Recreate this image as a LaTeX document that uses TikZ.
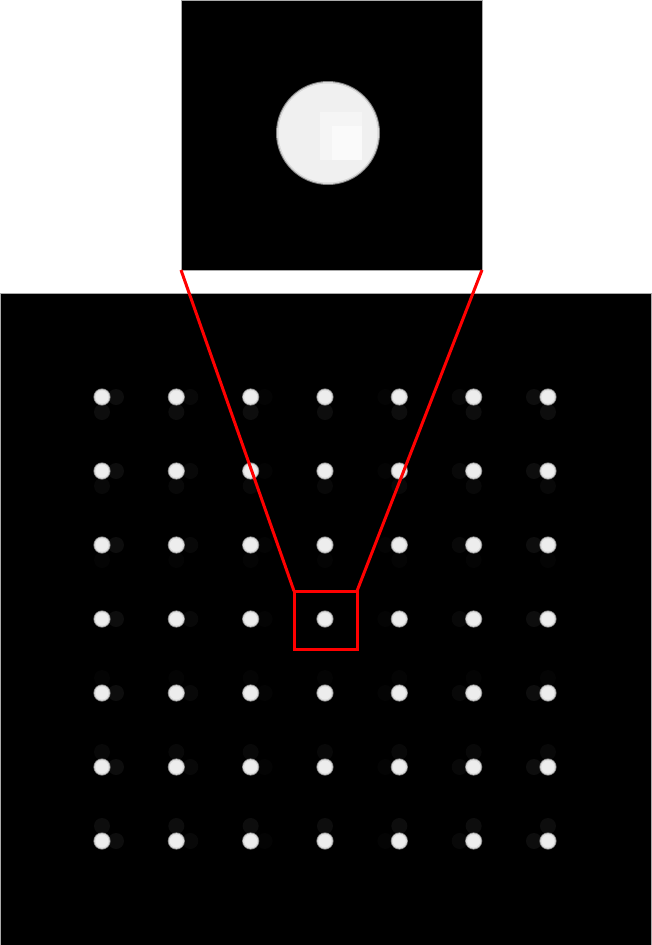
\documentclass[tikz,border=0pt]{standalone}
\begin{document}
\begin{tikzpicture}[x=1pt,y=-1pt,
  panel/.style={draw={rgb,255:red,170;green,170;blue,170},line width=0.8pt,fill=black,inner sep=0pt,outer sep=0pt},
  zoomline/.style={draw={rgb,255:red,255;green,0;blue,0},line width=3pt},
  zoombox/.style={draw={rgb,255:red,255;green,0;blue,0},line width=3pt,inner sep=0pt,outer sep=0pt,minimum width=63pt,minimum height=58pt}]
\useasboundingbox (0,0) rectangle (651,945);
\fill[white] (0,0) rectangle (651,945);
% big field
\node[panel,minimum width=651pt,minimum height=652pt] (field) at (325.5,619) {};
% inset
\node[panel,minimum width=301pt,minimum height=270pt] (inset) at (331.5,135) {};
\fill[white!50!black] (328,133) circle (52);
\fill[white!85!black] (328,133) circle (51);
\fill[white!94!black] (328,133) circle (49.5);
\fill[white!96!black] (320,112) rectangle (362,160);
\fill[white!98!black] (332,126) rectangle (362,160);
% ghost dots
\foreach \c in {0,...,6}{
  \foreach \r in {0,...,6}{
    \pgfmathsetmacro{\px}{102+74.33*\c}
    \pgfmathsetmacro{\py}{397+74*\r}
    \pgfmathtruncatemacro{\dc}{abs(\c-3)}
    \pgfmathtruncatemacro{\dr}{abs(\r-3)}
    \pgfmathsetmacro{\gc}{\dc==3 ? 5 : (\dc==2 ? 3 : (\dc==1 ? 1.5 : 0))}
    \pgfmathsetmacro{\gr}{\dr==3 ? 5 : (\dr==2 ? 3 : (\dr==1 ? 1.5 : 0))}
    \pgfmathsetmacro{\sx}{\c<3 ? 14 : -14}
    \pgfmathsetmacro{\sy}{\r<3 ? 15 : -15}
    \ifnum\dc>0
      \fill[white!\gc!black] (\px+\sx,\py) circle (8);
    \fi
    \ifnum\dr>0
      \fill[white!\gr!black] (\px,\py+\sy) circle (8);
    \fi
  }
}
% main dots
\foreach \c in {0,...,6}{
  \foreach \r in {0,...,6}{
    \pgfmathsetmacro{\px}{102+74.33*\c}
    \pgfmathsetmacro{\py}{397+74*\r}
    \fill[white!50!black] (\px,\py) circle (8.6);
    \fill[white!86!black] (\px,\py) circle (7.8);
    \fill[white!93!black] (\px,\py) circle (6.5);
  }
}
% zoom box and connectors
\node[zoombox] (zbox) at (325.5,620) {};
\draw[zoomline] (inset.south west) -- (zbox.north west);
\draw[zoomline] (inset.south east) -- (zbox.north east);
\end{tikzpicture}
\end{document}
